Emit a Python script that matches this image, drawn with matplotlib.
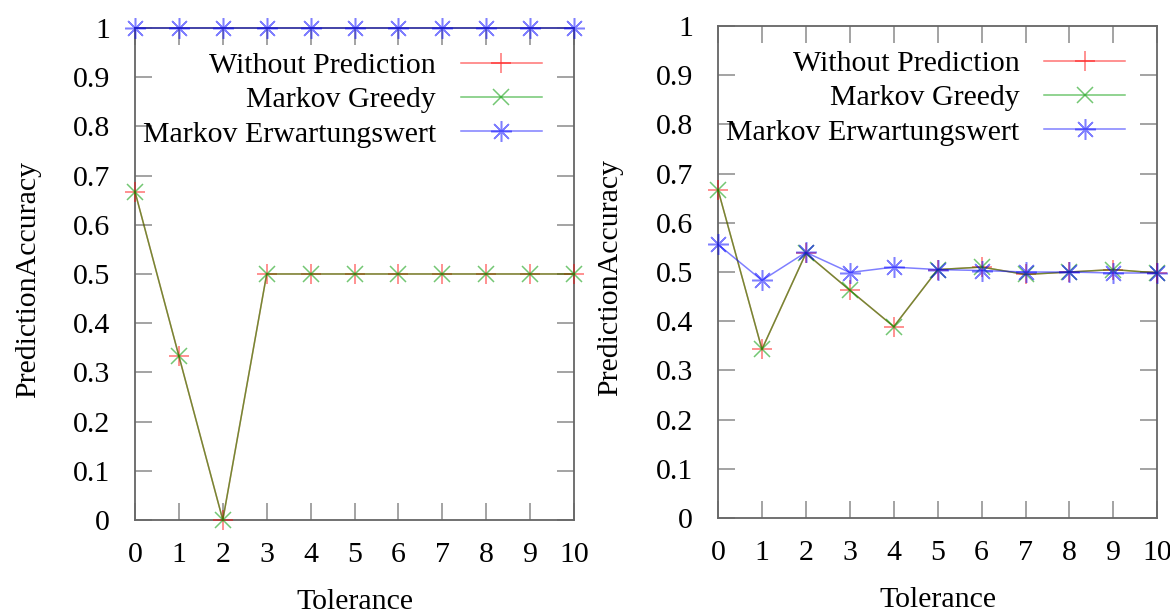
import numpy as np
import matplotlib
matplotlib.use("Agg")
import matplotlib.pyplot as plt

# prediction accuracy per tolerance, two scenarios
tolerance = list(range(11))

left_without = [0.667, 0.333, 0.0, 0.5, 0.5, 0.5, 0.5, 0.5, 0.5, 0.5, 0.5]
left_greedy = [0.667, 0.333, 0.0, 0.5, 0.5, 0.5, 0.5, 0.5, 0.5, 0.5, 0.5]
left_erwartung = [1, 1, 1, 1, 1, 1, 1, 1, 1, 1, 1]

right_without = [0.667, 0.343, 0.538, 0.463, 0.389, 0.505, 0.51, 0.495, 0.5, 0.505, 0.498]
right_greedy = [0.667, 0.343, 0.538, 0.463, 0.389, 0.505, 0.51, 0.495, 0.5, 0.505, 0.498]
right_erwartung = [0.556, 0.483, 0.54, 0.499, 0.51, 0.505, 0.503, 0.5, 0.5, 0.498, 0.498]

labels = ["Without Prediction", "Markov Greedy", "Markov Erwartungswert"]
yticks = [i / 10 for i in range(11)]
ytick_labels = ["0", "0.1", "0.2", "0.3", "0.4", "0.5", "0.6", "0.7", "0.8", "0.9", "1"]

plt.rcParams["font.family"] = ["Liberation Serif", "DejaVu Serif"]
FS = 21.5
RED, GREEN, BLUE = "#ff0000", "#009a00", "#0000ff"
SPINE = "#666666"
ASTER = (8, 2, 0)  # gnuplot style "*": plus and cross together

fig = plt.figure(figsize=(11.7, 6.15), dpi=100)
ax_l = fig.add_axes([0.1154, 0.1545, 0.3752, 0.8])
ax_r = fig.add_axes([0.6137, 0.1577, 0.3755, 0.8])


def draw(ax, without, greedy, erw):
    ax.plot(tolerance, without, color=RED, lw=1.1, alpha=0.55, marker="+",
            ms=14, mew=1.1, clip_on=False, zorder=3, label=labels[0])
    ax.plot(tolerance, greedy, color=GREEN, lw=1.1, alpha=0.55, marker="x",
            ms=11, mew=1.1, clip_on=False, zorder=3, label=labels[1])
    ax.plot(tolerance, erw, color=BLUE, lw=1.1, alpha=0.5, marker=ASTER,
            ms=15, mew=1.1, clip_on=False, zorder=4, label=labels[2])

    ax.set_xlim(0, 10)
    ax.set_ylim(0, 1)
    ax.set_xticks(tolerance)
    ax.set_xticklabels([str(t) for t in tolerance])
    ax.set_yticks(yticks)
    ax.set_yticklabels(ytick_labels)
    ax.tick_params(direction="in", top=True, right=True, length=12, width=1.1,
                   color="#8a8a8a", labelsize=FS, labelcolor="black")
    ax.tick_params(axis="x", pad=16)
    ax.tick_params(axis="y", pad=18)
    for s in ax.spines.values():
        s.set_color(SPINE)
        s.set_linewidth(1.3)

    ax.set_xlabel("Tolerance", fontsize=FS)
    ax.set_ylabel("PredictionAccuracy", fontsize=FS)
    ax.xaxis.set_label_coords(0.5, -0.141)
    ax.yaxis.set_label_coords(-0.215, 0.488)

    ax.legend(loc="upper right", bbox_to_anchor=(0.926, 0.951), frameon=False,
              markerfirst=False, fontsize=FS, handlelength=2.7,
              handletextpad=0.83, labelspacing=0.25, borderpad=0,
              borderaxespad=0)


draw(ax_l, left_without, left_greedy, left_erwartung)
draw(ax_r, right_without, right_greedy, right_erwartung)

fig.savefig("out.png", dpi=100)
